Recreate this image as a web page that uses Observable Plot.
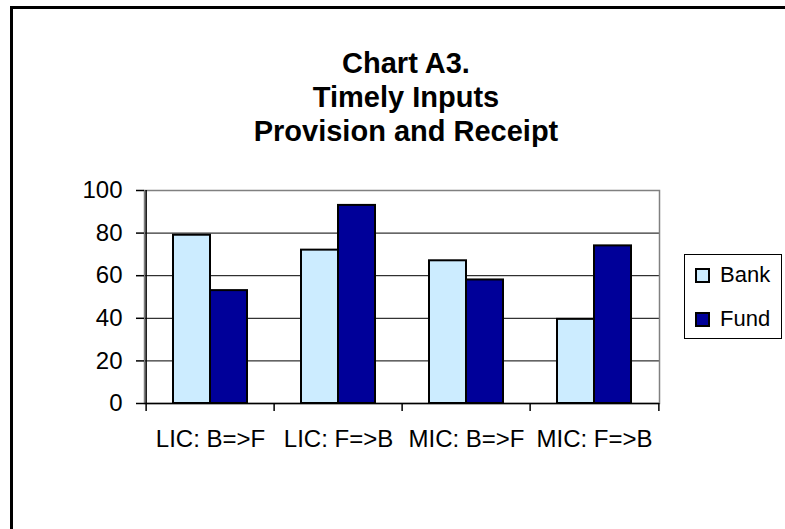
<!DOCTYPE html>
<html><head><meta charset="utf-8">
<script src="https://cdn.jsdelivr.net/npm/d3@7"></script>
<script src="https://cdn.jsdelivr.net/npm/@observablehq/plot@0.6"></script>
<style>
body{margin:0;background:#fff;font-family:Arial,"Liberation Sans",sans-serif;}
#wrap{position:relative;width:785px;height:529px;overflow:hidden;background:#fff;}
#frame{position:absolute;left:10px;top:6px;width:900px;height:700px;border-left:3px solid #000;border-top:3px solid #000;}
#title{position:absolute;left:206px;width:400px;top:46px;text-align:center;font-weight:bold;font-size:29px;line-height:34px;color:#000;}
#chart{position:absolute;left:0;top:0;}
#legend{position:absolute;left:684px;top:254px;width:98px;height:85px;border:1px solid #000;box-sizing:border-box;font-size:22px;background:#fff;}
.item{position:absolute;left:10px;height:24px;display:flex;align-items:center;line-height:24px;}
.sw{width:11px;height:11px;border:2px solid #000;margin-right:10px;}
</style></head>
<body><div id="wrap"><div id="frame"></div><div id="title"></div><div id="chart"></div><div id="legend"></div></div>
<script>
const categories = ["LIC: B=>F", "LIC: F=>B", "MIC: B=>F", "MIC: F=>B"];
const series = ["Bank", "Fund"];
const bankValues = [79, 72, 67, 39.5];
const fundValues = [53, 93, 58, 74];
const yTicks = [0, 20, 40, 60, 80, 100];
const colors = ["#CCECFF", "#000099"];
const titleLines = ["Chart A3.", "Timely Inputs", "Provision and Receipt"];

const bankRows = categories.map((c, i) => ({category: c, series: series[0], value: bankValues[i]}));
const fundRows = categories.map((c, i) => ({category: c, series: series[1], value: fundValues[i]}));

document.getElementById("title").innerHTML = titleLines.map(t => `<div>${t.replace(/&/g,"&amp;")}</div>`).join("");

const halfStep = 515 / categories.length / 2;

const plot = Plot.plot({
  width: 785, height: 529,
  marginLeft: 144, marginRight: 126, marginTop: 190, marginBottom: 126,
  style: {fontFamily: "Arial, 'Liberation Sans', sans-serif", fontSize: "24px", color: "#000", background: "transparent", overflow: "visible"},
  x: {type: "band", domain: categories, paddingInner: 0.425, paddingOuter: 0.2125, label: null},
  y: {domain: [0, 100], ticks: yTicks, label: null},
  color: {domain: series, range: colors},
  marks: [
    Plot.ruleY(yTicks.slice(1, -1), {stroke: "#000", strokeWidth: 1}),
    Plot.frame({stroke: "#808080", strokeWidth: 1.5}),
    Plot.barY(bankRows, {x: "category", y: "value", fill: "series", stroke: "#000", strokeWidth: 2, insetRight: 37}),
    Plot.barY(fundRows, {x: "category", y: "value", fill: "series", stroke: "#000", strokeWidth: 2, insetLeft: 37}),
    Plot.ruleY([0], {stroke: "#000", strokeWidth: 1.5}),
    Plot.ruleX(categories.slice(0, 1), {x: d => d, dx: -halfStep, stroke: "#000", strokeWidth: 1.5}),
    Plot.ruleX(categories, {x: d => d, y1: 0, y2: 0, insetBottom: -8, dx: -halfStep, stroke: "#000", strokeWidth: 1.5}),
    Plot.ruleX(categories.slice(-1), {x: d => d, y1: 0, y2: 0, insetBottom: -8, dx: halfStep, stroke: "#000", strokeWidth: 1.5}),
    Plot.axisY({ticks: yTicks, tickSize: 8, tickPadding: 14, fontSize: 24, strokeWidth: 1.5}),
    Plot.axisX({tickSize: 0, tickPadding: 26, fontSize: 24})
  ]
});
document.getElementById("chart").appendChild(plot);

const legend = document.getElementById("legend");
series.forEach((s, i) => {
  const item = document.createElement("div");
  item.className = "item";
  item.style.top = (8 + i * 44) + "px";
  const sw = document.createElement("div");
  sw.className = "sw";
  sw.style.background = colors[i];
  const label = document.createElement("span");
  label.textContent = s;
  item.appendChild(sw);
  item.appendChild(label);
  legend.appendChild(item);
});
</script>
</body></html>
